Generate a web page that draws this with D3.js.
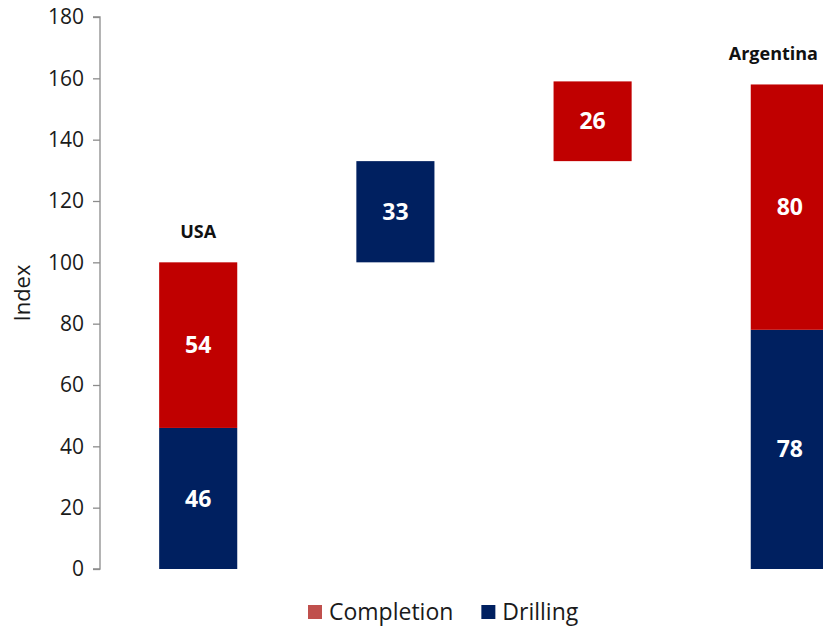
<!DOCTYPE html>
<html><head><meta charset="utf-8">
<script src="https://cdn.jsdelivr.net/npm/d3@7"></script>
<style>body{margin:0;background:#fff;overflow:hidden}svg text{font-family:"Open Sans","Noto Sans",sans-serif}</style>
</head><body><svg id="c" width="823" height="627"></svg>
<script>
const categories = ["USA", "Drilling change", "Completion change", "Argentina"];
const categoryLabels = ["USA", "", "", "Argentina"];
const drillingBase = [0, 100, 0, 0];
const drilling = [46, 33, 0, 78];
const completionBase = [46, 0, 133, 78];
const completion = [54, 0, 26, 80];
const yTicks = [0, 20, 40, 60, 80, 100, 120, 140, 160, 180];

const W = 823, H = 627;
const svg = d3.select("#c");
const y = d3.scaleLinear().domain([0, 180]).range([569, 17]);
const x = d3.scaleBand().domain(categories).range([100, 888]).paddingInner(0.604).paddingOuter(0.3);

const ax = svg.append("g").attr("transform", "translate(100,0)")
  .call(d3.axisLeft(y).tickValues(yTicks).tickSize(7).tickPadding(9));
ax.select(".domain").attr("stroke", "#8c8c8c").attr("stroke-width", 1.3).attr("d", `M-7,${y(180)}H0V${y(0)}H-7`);
ax.selectAll(".tick line").attr("stroke", "#8c8c8c").attr("stroke-width", 1.3);
ax.selectAll(".tick text").attr("font-size", 21).attr("fill", "#1a1a1a").style("font-family", "'Open Sans',sans-serif");

svg.append("text").attr("transform", `translate(30,${y(90)}) rotate(-90)`).attr("text-anchor", "middle")
  .attr("font-size", 22).attr("fill", "#1a1a1a").text("Index");

const red = "#C00000", navy = "#002060";
function series(base, vals, color) {
  categories.forEach((c, i) => {
    if (!vals[i]) return;
    svg.append("rect").attr("x", x(c)).attr("width", x.bandwidth())
      .attr("y", y(base[i] + vals[i])).attr("height", y(base[i]) - y(base[i] + vals[i])).attr("fill", color);
    svg.append("text").attr("x", x(c) + x.bandwidth() / 2).attr("y", y(base[i] + vals[i] / 2))
      .attr("dy", "0.35em").attr("text-anchor", "middle").attr("font-size", 23).attr("font-weight", "bold")
      .attr("fill", "#fff").text(vals[i]);
  });
}
series(drillingBase, drilling, navy);
series(completionBase, completion, red);

categories.forEach((c, i) => {
  if (!categoryLabels[i]) return;
  const top = Math.max(drillingBase[i] + drilling[i], completionBase[i] + completion[i]);
  const t = svg.append("text").attr("y", y(top) - 24).attr("font-size", 18).attr("font-weight", "bold")
    .attr("fill", "#111").attr("text-anchor", "middle").attr("x", x(c) + x.bandwidth() / 2).text(categoryLabels[i]);
  const bb = t.node().getBBox();
  if (bb.x + bb.width > W - 4) t.attr("text-anchor", "end").attr("x", W - 5);
});

const legend = [{name: "Completion", color: "#C0504D"}, {name: "Drilling", color: navy}];
const lg = svg.append("g").attr("transform", "translate(308,612)");
let lx = 0;
legend.forEach(d => {
  lg.append("rect").attr("x", lx).attr("y", -7).attr("width", 14).attr("height", 14).attr("fill", d.color);
  const t = lg.append("text").attr("x", lx + 21).attr("dy", "0.35em").attr("font-size", 23).attr("fill", "#1a1a1a").text(d.name);
  lx += 21 + t.node().getComputedTextLength() + 28;
});
</script></body></html>
